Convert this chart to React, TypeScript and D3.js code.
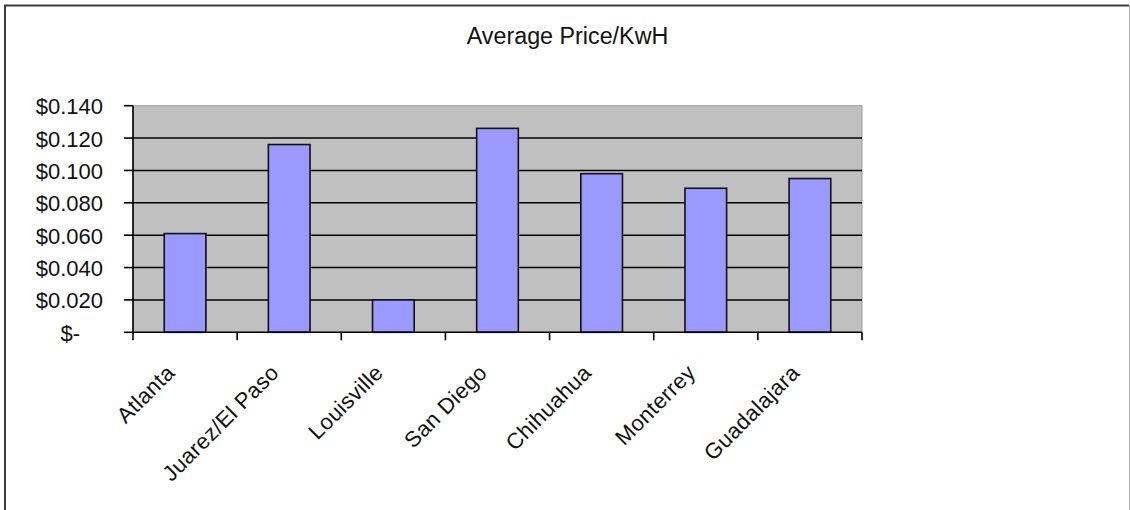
import React from "react";
import * as d3 from "d3";

const cities = ["Atlanta", "Juarez/El Paso", "Louisville", "San Diego", "Chihuahua", "Monterrey", "Guadalajara"];
const prices = [0.061, 0.116, 0.020, 0.126, 0.098, 0.089, 0.095];
const yTicks = [0, 0.02, 0.04, 0.06, 0.08, 0.1, 0.12, 0.14];
const title = "Average Price/KwH";

const W = 1130;
const H = 510;
const plot = { left: 133, right: 862, top: 105.7, bottom: 332.3 };
const FONT = "Arial, 'Liberation Sans', Helvetica, sans-serif";

const fmt = (v: number) => (v === 0 ? "$-" : "$" + v.toFixed(3));

export default function App() {
  const x = d3.scaleBand<string>().domain(cities).range([plot.left, plot.right]).paddingInner(0.6).paddingOuter(0.3);
  const band = d3.scaleBand<string>().domain(cities).range([plot.left, plot.right]);
  const y = d3.scaleLinear().domain([0, 0.14]).range([plot.bottom, plot.top]);

  const boundaries = d3.range(cities.length + 1).map((i) => plot.left + i * band.step());

  return (
    <div style={{ position: "absolute", left: 0, top: 0 }}>
      <svg width={W} height={H} style={{ display: "block", background: "#fff" }}>
        {/* outer chart frame */}
        <line x1={5} y1={5} x2={5} y2={H} stroke="#3a3a3a" strokeWidth={2} />
        <line x1={4} y1={5.5} x2={1129} y2={5.5} stroke="#3a3a3a" strokeWidth={2} />
        <line x1={1129.5} y1={5} x2={1129.5} y2={H} stroke="#b0b0b0" strokeWidth={1} />

        <text x={567.5} y={44} textAnchor="middle" fontFamily={FONT} fontSize={23.3} fill="#111">
          {title}
        </text>

        {/* plot area */}
        <rect
          x={plot.left}
          y={plot.top}
          width={plot.right - plot.left}
          height={plot.bottom - plot.top}
          fill="#c0c0c0"
          stroke="#9a9a9a"
          strokeWidth={1}
        />

        {/* gridlines */}
        {yTicks
          .filter((t) => t > 0 && t < 0.14)
          .map((t) => (
            <line key={"g" + t} x1={plot.left} x2={plot.right} y1={y(t)} y2={y(t)} stroke="#000" strokeWidth={1.6} />
          ))}

        {/* bars */}
        {cities.map((c, i) => (
          <rect
            key={c}
            x={x(c)}
            y={y(prices[i])}
            width={x.bandwidth()}
            height={plot.bottom - y(prices[i])}
            fill="#9999ff"
            stroke="#111"
            strokeWidth={1.6}
          />
        ))}

        {/* y axis */}
        <line x1={plot.left} x2={plot.left} y1={plot.top} y2={plot.bottom} stroke="#000" strokeWidth={1.6} />
        {yTicks.map((t) => (
          <g key={"t" + t}>
            <line x1={plot.left - 9} x2={plot.left} y1={y(t)} y2={y(t)} stroke="#000" strokeWidth={1.6} />
            <text
              x={t === 0 ? 80 : 103}
              y={y(t) + 8.5}
              textAnchor="end"
              fontFamily={FONT}
              fontSize={22}
              fill="#111"
            >
              {fmt(t)}
            </text>
          </g>
        ))}

        {/* x axis */}
        <line x1={plot.left} x2={plot.right} y1={plot.bottom} y2={plot.bottom} stroke="#000" strokeWidth={1.6} />
        {boundaries.map((bx, i) => (
          <line key={"xt" + i} x1={bx} x2={bx} y1={plot.bottom} y2={plot.bottom + 8} stroke="#000" strokeWidth={1.6} />
        ))}
        {cities.map((c) => {
          const cx = (band(c) as number) + band.bandwidth() / 2;
          return (
            <text
              key={"l" + c}
              transform={`translate(${cx - 9},${374}) rotate(-45)`}
              textAnchor="end"
              fontFamily={FONT}
              fontSize={22}
              letterSpacing={0.4}
              fill="#111"
            >
              {c}
            </text>
          );
        })}
      </svg>
    </div>
  );
}
